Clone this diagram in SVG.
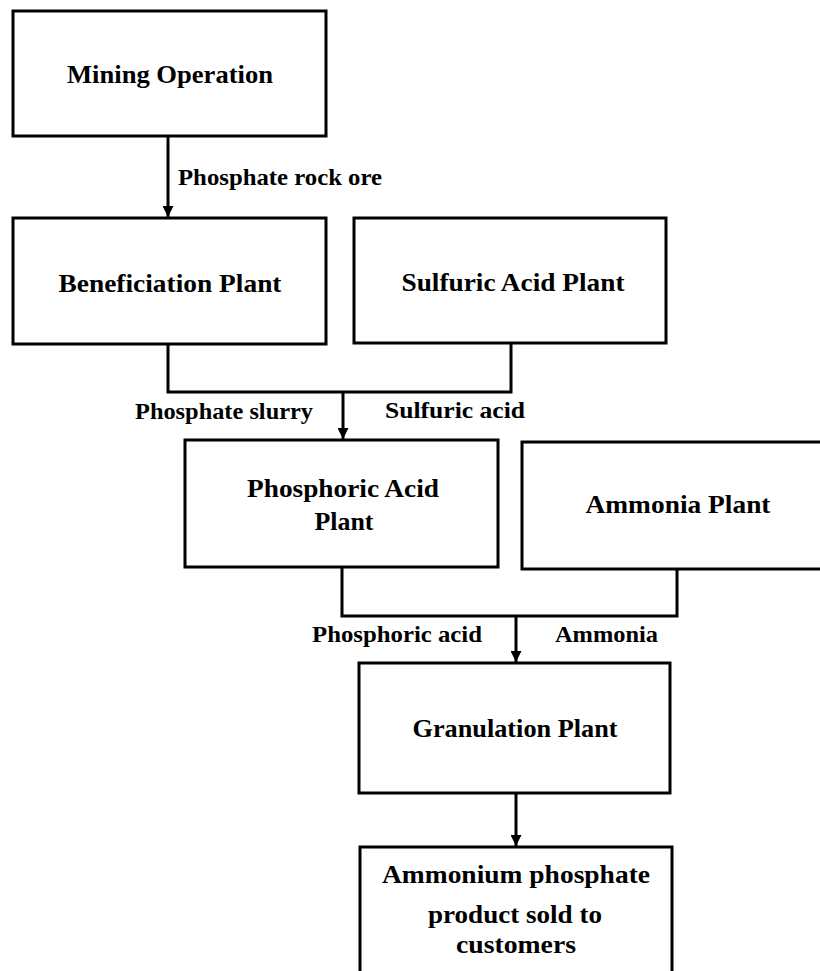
<svg xmlns="http://www.w3.org/2000/svg" width="820" height="971" viewBox="0 0 820 971">
  <style>
    .box { fill: #ffffff; stroke: #000000; stroke-width: 3; }
    .wire { fill: none; stroke: #000000; stroke-width: 3; }
    .node-text { font-family: "Liberation Serif", "Times New Roman", serif; font-size: 26px; font-weight: bold; fill: #000000; text-anchor: middle; }
    .flow-label { font-family: "Liberation Serif", "Times New Roman", serif; font-size: 24px; font-weight: bold; fill: #000000; }
  </style>
  <defs>
    <marker id="arrow" markerWidth="11" markerHeight="11" refX="11" refY="5.5" orient="auto" markerUnits="userSpaceOnUse">
      <path d="M0,0 L11,5.5 L0,11 Z" fill="#000000"/>
    </marker>
  </defs>

  <rect width="820" height="971" fill="#ffffff"/>

  <!-- connectors -->
  <g id="connectors">
    <line class="wire" x1="168" y1="136" x2="168" y2="217" marker-end="url(#arrow)"/>
    <polyline class="wire" points="168,344 168,392 511,392 511,343"/>
    <line class="wire" x1="343" y1="392" x2="343" y2="439" marker-end="url(#arrow)"/>
    <polyline class="wire" points="342,567 342,616 677,616 677,569"/>
    <line class="wire" x1="516" y1="616" x2="516" y2="662" marker-end="url(#arrow)"/>
    <line class="wire" x1="516" y1="793" x2="516" y2="846" marker-end="url(#arrow)"/>
    <text class="flow-label" x="178" y="185" textLength="204" lengthAdjust="spacingAndGlyphs">Phosphate rock ore</text>
    <text class="flow-label" x="135" y="419" textLength="178" lengthAdjust="spacingAndGlyphs">Phosphate slurry</text>
    <text class="flow-label" x="385" y="418" textLength="140" lengthAdjust="spacingAndGlyphs">Sulfuric acid</text>
    <text class="flow-label" x="312" y="642" textLength="170" lengthAdjust="spacingAndGlyphs">Phosphoric acid</text>
    <text class="flow-label" x="555" y="642" textLength="103" lengthAdjust="spacingAndGlyphs">Ammonia</text>
  </g>

  <g id="mining-operation">
    <rect class="box" x="13" y="11" width="313" height="125"/>
    <text class="node-text" x="170" y="83" textLength="206" lengthAdjust="spacingAndGlyphs">Mining Operation</text>
  </g>

  <g id="beneficiation-plant">
    <rect class="box" x="13" y="218" width="313" height="126"/>
    <text class="node-text" x="170" y="292" textLength="223" lengthAdjust="spacingAndGlyphs">Beneficiation Plant</text>
  </g>

  <g id="sulfuric-acid-plant">
    <rect class="box" x="354" y="218" width="312" height="125"/>
    <text class="node-text" x="513" y="291" textLength="223" lengthAdjust="spacingAndGlyphs">Sulfuric Acid Plant</text>
  </g>

  <g id="phosphoric-acid-plant">
    <rect class="box" x="185" y="440" width="313" height="127"/>
    <text class="node-text" x="343" y="497" textLength="192" lengthAdjust="spacingAndGlyphs">Phosphoric Acid</text>
    <text class="node-text" x="344" y="530" textLength="59" lengthAdjust="spacingAndGlyphs">Plant</text>
  </g>

  <g id="ammonia-plant">
    <rect class="box" x="522" y="442" width="312" height="127"/>
    <text class="node-text" x="678" y="513" textLength="185" lengthAdjust="spacingAndGlyphs">Ammonia Plant</text>
  </g>

  <g id="granulation-plant">
    <rect class="box" x="359" y="663" width="311" height="130"/>
    <text class="node-text" x="515" y="737" textLength="205" lengthAdjust="spacingAndGlyphs">Granulation Plant</text>
  </g>

  <g id="ammonium-phosphate-product">
    <rect class="box" x="360" y="847" width="312" height="140"/>
    <text class="node-text" x="516" y="883" textLength="268" lengthAdjust="spacingAndGlyphs">Ammonium phosphate</text>
    <text class="node-text" x="515" y="923" textLength="174" lengthAdjust="spacingAndGlyphs">product sold to</text>
    <text class="node-text" x="516" y="953" textLength="120" lengthAdjust="spacingAndGlyphs">customers</text>
  </g>
</svg>
